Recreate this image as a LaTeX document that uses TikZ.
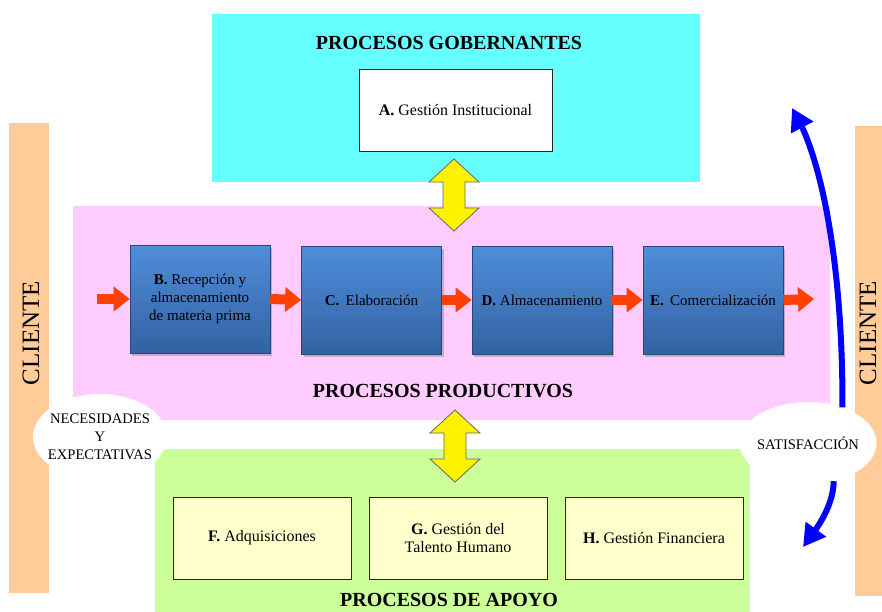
\documentclass[tikz,border=0pt]{standalone}
\usepackage{fontspec}
\setmainfont{Liberation Serif}
\newcommand{\ttlfont}{\fontsize{20}{23}\selectfont\bfseries}
\newcommand{\bxfont}{\fontsize{15}{18.3}\selectfont}
\newcommand{\wbxfont}{\fontsize{16}{18.5}\selectfont}
\newcommand{\cldfont}{\fontsize{14.6}{18}\selectfont}
\newcommand{\clifont}{\fontsize{25}{28}\selectfont}
\usetikzlibrary{positioning, arrows.meta, bending, shapes.geometric, shadows}
\definecolor{govcyan}{RGB}{102, 255, 255}
\definecolor{prodpink}{RGB}{255, 204, 255}
\definecolor{apoyogreen}{RGB}{204, 255, 153}
\definecolor{clientorange}{RGB}{255, 204, 153}
\definecolor{supportfill}{RGB}{255, 255, 204}
\definecolor{flowred}{RGB}{255, 64, 0}
\definecolor{boxtop}{RGB}{80, 142, 218}
\definecolor{boxbottom}{RGB}{50, 98, 162}
\definecolor{boxedge}{RGB}{38, 72, 120}

\begin{document}
\begin{tikzpicture}[
    x=1pt, y=-1pt,
    region/.style={
        fill=#1,
        draw=none,
        inner sep=0pt,
        outer sep=0pt,
        anchor=north west,
    },
    title/.style={font=\ttlfont, inner sep=1pt},
    prodbox/.style={
        draw=boxedge,
        line width=0.6pt,
        top color=boxtop,
        bottom color=boxbottom,
        minimum width=140pt,
        minimum height=108pt,
        align=center,
        font=\bxfont,
        drop shadow={shadow xshift=2pt, shadow yshift=-3pt, opacity=0.45},
    },
    whitebox/.style={
        draw=black!85,
        fill=#1,
        line width=1pt,
        minimum width=178pt,
        minimum height=82pt,
        align=center,
        font=\wbxfont,
    },
    cloud/.style={
        ellipse,
        fill=white,
        inner xsep=-6pt,
        inner ysep=0pt,
        align=center,
        font=\cldfont,
    },
    clientlabel/.style={rotate=90, font=\clifont, inner sep=1pt},
    flow/.style={-{Triangle[length=16pt, width=24pt]}, line width=10pt, draw=flowred},
    satarrow/.style={-{Triangle[length=22pt, width=24pt]}, line width=6pt, draw=blue},
    dblarrow/.pic={
        \draw[fill=yellow, draw=black!60, line width=0.8pt]
            (0,-36) -- (25,-13) -- (11,-13) -- (11,13) -- (25,13) -- (0,36)
            -- (-25,13) -- (-11,13) -- (-11,-13) -- (-25,-13) -- cycle;
    },
]

\useasboundingbox (0,0) rectangle (882,611);
\clip (0,0) rectangle (882,611);

% -- Client bars
\node[region=clientorange, minimum width=40pt, minimum height=470pt] (barleft) at (9,123) {};
\node[region=clientorange, minimum width=40pt, minimum height=470pt] (barright) at (855,126) {};
\node[clientlabel] (clileft) at (31,333) {CLIENTE};
\node[clientlabel] (cliright) at (868,333) {CLIENTE};

% -- Process regions
\node[region=govcyan, minimum width=488pt, minimum height=168pt] (gob) at (212,14) {};
\node[region=prodpink, minimum width=757pt, minimum height=214pt] (prod) at (73,206) {};
\node[region=apoyogreen, minimum width=595pt, minimum height=170pt] (apoyo) at (155,449) {};

% -- Region titles
\node[title] (gobtitle) at (449,43) {PROCESOS GOBERNANTES};
\node[title] (prodtitle) at (443,391) {PROCESOS PRODUCTIVOS};
\node[title] (apoyotitle) at (449,600) {PROCESOS DE APOYO};

% -- Clouds
\node[cloud, minimum width=134pt, minimum height=86pt] (needs) at (100,437) {NECESIDADES\\Y\\EXPECTATIVAS};
\node[cloud, minimum width=137pt, minimum height=82pt] (satis) at (808,443) {SATISFACCIÓN};

% -- Governing process
\node[whitebox=white, minimum width=193pt] (inst) at (455.5,110) {\textbf{A.} Gestión Institucional};

% -- Productive chain
\node[prodbox] (recep) at (200,299) {\textbf{B.} Recepción y\\almacenamiento\\de materia prima};
\node[prodbox] (elab) at (371.5,300) {\textbf{C.}\, Elaboración};
\node[prodbox] (almac) at (542,300) {\textbf{D.} Almacenamiento};
\node[prodbox] (comer) at (713,300) {\textbf{E.}\, Comercialización};

% -- Support processes
\node[whitebox=supportfill] (adq) at (262,538) {\textbf{F.} Adquisiciones};
\node[whitebox=supportfill] (talento) at (458,538) {\textbf{G.} Gestión del\\Talento Humano};
\node[whitebox=supportfill] (finan) at (654,538) {\textbf{H.} Gestión Financiera};

% ===== Arrows =====

% flow through the productive chain
\coordinate (inflow) at (97,299);
\coordinate (outflow) at (814,299);
\draw[flow] (inflow) -- (recep.west);
\draw[flow] (recep.east) -- (elab.west);
\draw[flow] (elab.east) -- (almac.west);
\draw[flow] (almac.east) -- (comer.west);
\draw[flow] (comer.east) -- (outflow);

% links between regions
\coordinate (govlink) at (454,195);
\coordinate (apoyolink) at (455,446);
\pic at (govlink) {dblarrow};
\pic at (apoyolink) {dblarrow};

% satisfaction back to the processes
\coordinate (topaim) at (792,108);
\coordinate (downaim) at (803,547);
\draw[satarrow] (satis.46) .. controls (843,280) and (825,160) .. (topaim);
\draw[satarrow] (satis.-56) .. controls (833,505) and (820,525) .. (downaim);

\end{tikzpicture}
\end{document}
